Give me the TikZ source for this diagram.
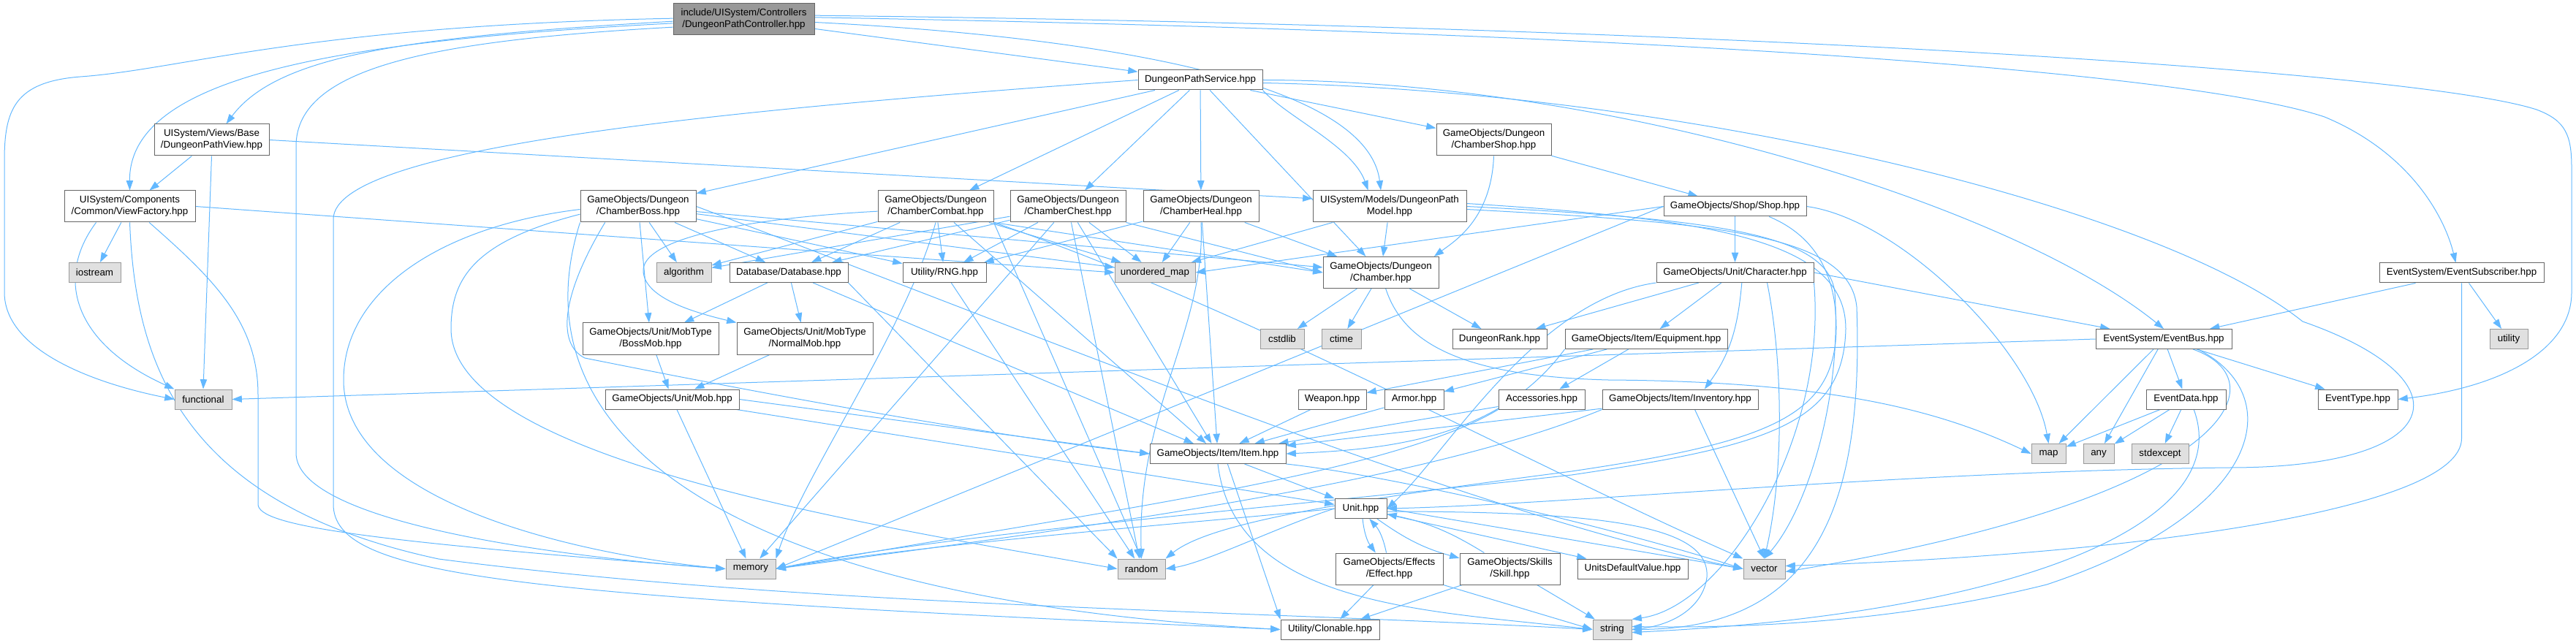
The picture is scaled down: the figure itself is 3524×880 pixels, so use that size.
\documentclass[tikz,border=0pt]{standalone}
\usepackage{fontspec}
\setmainfont{Liberation Sans}
\usetikzlibrary{arrows.meta}
\definecolor{depblue}{HTML}{63B8FF}
\definecolor{boxline}{HTML}{666666}
\definecolor{sysline}{HTML}{999999}
\definecolor{sysfill}{HTML}{E0E0E0}
\definecolor{topfill}{HTML}{999999}
\pgfdeclarelayer{links}
\pgfsetlayers{links,main}
\tikzset{
  hdr/.style={draw=boxline,fill=white,line width=0.75pt,align=center,inner sep=0pt,
    minimum height=20.25pt,font=\fontsize{10}{12}\selectfont},
  hdrtwo/.style={hdr,minimum height=32.25pt},
  syshdr/.style={hdr,draw=sysline,fill=sysfill},
  dep/.style={draw=depblue,line width=0.75pt,-{Triangle[length=10pt,width=7pt]}}
}
\begin{document}
\begin{tikzpicture}[x=0.75pt,y=-0.75pt]
  \useasboundingbox (0,0) rectangle (3524,880);
  \node[hdrtwo,fill=topfill,minimum width=144.75pt] (ctl) at (1017.5,26.5) {include/UISystem/Controllers\\/DungeonPathController.hpp};
  \node[hdr,minimum width=127.5pt] (svc) at (1642,109.5) {DungeonPathService.hpp};
  \node[hdrtwo,minimum width=117.75pt] (pview) at (289.5,191.5) {UISystem/Views/Base\\/DungeonPathView.hpp};
  \node[hdrtwo,minimum width=117.75pt] (cshop) at (2043.5,191.5) {GameObjects/Dungeon\\/ChamberShop.hpp};
  \node[hdrtwo,minimum width=134.25pt] (vfac) at (177.5,282.5) {UISystem/Components\\/Common/ViewFactory.hpp};
  \node[hdrtwo,minimum width=118.5pt] (cboss) at (873,282.5) {GameObjects/Dungeon\\/ChamberBoss.hpp};
  \node[hdrtwo,minimum width=118.5pt] (ccomb) at (1280,282.5) {GameObjects/Dungeon\\/ChamberCombat.hpp};
  \node[hdrtwo,minimum width=118.5pt] (cchest) at (1461,282.5) {GameObjects/Dungeon\\/ChamberChest.hpp};
  \node[hdrtwo,minimum width=118.5pt] (cheal) at (1643,282.5) {GameObjects/Dungeon\\/ChamberHeal.hpp};
  \node[hdrtwo,minimum width=157.5pt] (pmodel) at (1901,282.5) {UISystem/Models/DungeonPath\\Model.hpp};
  \node[hdr,minimum width=146.25pt] (shop) at (2373.5,282.5) {GameObjects/Shop/Shop.hpp};
  \node[syshdr,minimum width=53.25pt] (iostr) at (129.5,373) {iostream};
  \node[syshdr,minimum width=56.25pt] (algo) at (935.5,373) {algorithm};
  \node[hdr,minimum width=121.5pt] (db) at (1079,373) {Database/Database.hpp};
  \node[hdr,minimum width=85.5pt] (rng) at (1292,373) {Utility/RNG.hpp};
  \node[syshdr,minimum width=82.5pt] (umap) at (1580,373) {unordered\_map};
  \node[hdrtwo,minimum width=118.5pt] (chamber) at (1889,373) {GameObjects/Dungeon\\/Chamber.hpp};
  \node[hdr,minimum width=161.25pt] (charac) at (2373.5,373) {GameObjects/Unit/Character.hpp};
  \node[hdr,minimum width=168.75pt] (evsub) at (3367.5,373.5) {EventSystem/EventSubscriber.hpp};
  \node[hdrtwo,minimum width=139.5pt] (bossmob) at (890,463.5) {GameObjects/Unit/MobType\\/BossMob.hpp};
  \node[hdrtwo,minimum width=139.5pt] (normmob) at (1101,463.5) {GameObjects/Unit/MobType\\/NormalMob.hpp};
  \node[syshdr,minimum width=45pt] (cstdlib) at (1754,464) {cstdlib};
  \node[syshdr,minimum width=40.5pt] (ctime) at (1835,464) {ctime};
  \node[hdr,minimum width=96.75pt] (drank) at (2051.5,464) {DungeonRank.hpp};
  \node[hdr,minimum width=166.5pt] (equip) at (2252,464) {GameObjects/Item/Equipment.hpp};
  \node[hdr,minimum width=139.5pt] (evbus) at (2960,464) {EventSystem/EventBus.hpp};
  \node[syshdr,minimum width=39pt] (utility) at (3432,464) {utility};
  \node[syshdr,minimum width=58.5pt] (func) at (278,546.5) {functional};
  \node[hdr,minimum width=137.25pt] (mob) at (919.5,546.5) {GameObjects/Unit/Mob.hpp};
  \node[hdr,minimum width=69.75pt] (weapon) at (1822.5,546.5) {Weapon.hpp};
  \node[hdr,minimum width=60.75pt] (armor) at (1934.5,546.5) {Armor.hpp};
  \node[hdr,minimum width=88.5pt] (access) at (2109,546.5) {Accessories.hpp};
  \node[hdr,minimum width=159.75pt] (invent) at (2298.5,546.5) {GameObjects/Item/Inventory.hpp};
  \node[hdr,minimum width=81.75pt] (evdata) at (2990.5,546.5) {EventData.hpp};
  \node[hdr,minimum width=81.75pt] (evtype) at (3225.5,546.5) {EventType.hpp};
  \node[hdr,minimum width=139.5pt] (item) at (1666,621) {GameObjects/Item/Item.hpp};
  \node[syshdr,minimum width=35.25pt] (map) at (2802.5,621) {map};
  \node[syshdr,minimum width=31.5pt] (any) at (2871,621) {any};
  \node[syshdr,minimum width=58.5pt] (stdexc) at (2955,621) {stdexcept};
  \node[hdr,minimum width=53.25pt] (unit) at (1861.5,696) {Unit.hpp};
  \node[syshdr,minimum width=51pt] (memory) at (1027,778.5) {memory};
  \node[syshdr,minimum width=48.75pt] (random) at (1561.5,778.5) {random};
  \node[hdrtwo,minimum width=110.25pt] (effect) at (1900.5,778.5) {GameObjects/Effects\\/Effect.hpp};
  \node[hdrtwo,minimum width=102.75pt] (skill) at (2065.5,778.5) {GameObjects/Skills\\/Skill.hpp};
  \node[hdr,minimum width=113.25pt] (udv) at (2233.5,778.5) {UnitsDefaultValue.hpp};
  \node[syshdr,minimum width=42.75pt] (vector) at (2413.5,778.5) {vector};
  \node[hdr,minimum width=101.25pt] (clon) at (1819.5,861.5) {Utility/Clonable.hpp};
  \node[syshdr,minimum width=39.75pt] (string) at (2205.5,861.5) {string};
  \begin{pgfonlayer}{links}
  \draw[dep] (ctl) -- (svc);
  \draw[dep] ([yshift=-2pt]ctl.west) .. controls (560,50) and (380,75) .. ([xshift=15pt]pview.north);
  \draw[dep] ([yshift=-4pt]ctl.west) .. controls (480,55) and (176,100) .. (vfac.north);
  \draw[dep] ([yshift=1pt]ctl.west) .. controls (420,35) and (250,95) .. (110,105) .. controls (20,112) and (6,150) .. (6,220) -- (6,400) .. controls (6,480) and (130,525) .. (func.west);
  \draw[dep] ([yshift=-8pt]ctl.west) .. controls (600,55) and (405,90) .. (405,200) -- (405,620) .. controls (405,720) and (800,765) .. (memory.west);
  \draw[dep] ([yshift=-3pt]ctl.east) .. controls (1500,50) and (1870,110) .. ([xshift=-9pt]pmodel.north);
  \draw[dep] ([yshift=2pt]ctl.east) .. controls (2300,45) and (3000,100) .. (3180,160) .. controls (3300,210) and (3345,300) .. ([xshift=-6pt]evsub.north);
  \draw[dep] ([yshift=4pt]ctl.east) .. controls (2300,35) and (3300,95) .. (3470,150) .. controls (3510,165) and (3518,185) .. (3518,230) -- (3518,400) .. controls (3518,480) and (3420,530) .. (evtype.east);
  \draw[dep] (pview) -- (vfac);
  \draw[dep] (pview.south) -- (func.north);
  \draw[dep] (pview.east) -- ([yshift=8pt]pmodel.west);
  \draw[dep] (vfac) -- (iostr);
  \draw[dep] ([xshift=33pt]vfac.south west) .. controls (75,380) and (100,470) .. (func.north west);
  \draw[dep] (vfac.south) .. controls (185,500) and (250,690) .. (600,765) .. controls (1100,830) and (1700,835) .. (string.west);
  \draw[dep] ([xshift=20pt]vfac.south) .. controls (290,380) and (353,440) .. (353,540) -- (353,690) .. controls (353,720) and (500,740) .. (memory.west);
  \draw[dep] (vfac.east) -- (umap.west);
  \foreach \dst in {cboss,ccomb,cchest,cheal,cshop,chamber}
    \draw[dep] (svc) -- (\dst);
  \draw[dep] (svc.south east) .. controls (1760,160) and (1850,200) .. ([xshift=-22pt]pmodel.north);
  \draw[dep] (svc.east) .. controls (2200,110) and (2750,280) .. (evbus.north);
  \draw[dep] (svc.west) .. controls (1000,150) and (456,200) .. (456,300) -- (456,690) .. controls (456,790) and (700,815) .. (clon.west);
  \draw[dep] ([yshift=-3pt]svc.east) .. controls (2300,125) and (2950,280) .. (3150,440) .. controls (3380,520) and (3350,640) .. (3050,640) .. controls (2600,645) and (2150,690) .. (unit.east);
  \foreach \dst in {bossmob,algo,db,rng,umap,chamber}
    \draw[dep] (cboss) -- (\dst);
  \draw[dep] ([xshift=-34pt]cboss.south) .. controls (770,400) and (760,470) .. (800,490) .. controls (900,510) and (1300,590) .. (item.west);
  \draw[dep] ([yshift=-3pt]cboss.west) .. controls (600,310) and (470,400) .. (470,520) .. controls (470,690) and (800,760) .. (memory.west);
  \draw[dep] ([yshift=-8pt]cboss.west) .. controls (650,330) and (617,380) .. (617,450) .. controls (617,630) and (1200,720) .. (random.west);
  \draw[dep] (cboss.south west) .. controls (700,600) and (1000,820) .. (clon.west);
  \draw[dep] (cboss.east) .. controls (1400,450) and (2000,700) .. (vector.west);
  \foreach \dst in {algo,db,rng,umap,item}
    \draw[dep] (ccomb) -- (\dst);
  \draw[dep] (ccomb.south east) -- (chamber.west);
  \draw[dep] (ccomb.south) .. controls (1240,450) and (1100,650) .. (memory.north east);
  \draw[dep] (ccomb.south east) -- (random.north);
  \draw[dep] ([yshift=-5pt]ccomb.west) .. controls (1000,300) and (880,330) .. (880,370) .. controls (880,410) and (960,430) .. (normmob.north west);
  \draw[dep] (ccomb.south east) .. controls (1700,420) and (2100,640) .. (vector.north west);
  \foreach \dst in {algo,umap,item,random,db,rng,memory}
    \draw[dep] (cchest) -- (\dst);
  \draw[dep] (cchest.south east) -- (chamber.west);
  \foreach \dst in {chamber,umap,item,rng}
    \draw[dep] (cheal) -- (\dst);
  \draw[dep] (cheal.south) .. controls (1650,450) and (1555,560) .. (random.north);
  \draw[dep] (cshop) -- (shop);
  \draw[dep] (cshop.south) .. controls (2040,300) and (1990,330) .. ([xshift=-5pt]chamber.north east);
  \draw[dep] (pmodel) -- (chamber);
  \draw[dep] (pmodel) -- (umap);
  \draw[dep] (pmodel.east) .. controls (2350,300) and (2500,320) .. (2510,400) .. controls (2520,550) and (2470,700) .. (vector.north);
  \draw[dep] ([yshift=-3pt]pmodel.east) .. controls (2350,305) and (2530,320) .. (2540,420) .. controls (2550,700) and (2480,860) .. (string.east);
  \draw[dep] ([yshift=3pt]pmodel.east) .. controls (2350,300) and (2525,330) .. (2525,450) .. controls (2522,580) and (2420,610) .. (2150,650) .. controls (1700,700) and (1300,730) .. (memory.east);
  \draw[dep] (shop) -- (charac);
  \draw[dep] (shop.west) -- (umap.east);
  \draw[dep] (shop.west) -- (memory.east);
  \draw[dep] ([xshift=35pt]shop.south) .. controls (2500,330) and (2512,400) .. (2512,450) .. controls (2510,570) and (2420,605) .. (2150,645) .. controls (1800,690) and (1650,720) .. (random.north east);
  \draw[dep] (shop.east) .. controls (2600,300) and (2780,480) .. (map.north);
  \draw[dep] (charac) -- (drank);
  \draw[dep] (charac) -- (equip);
  \draw[dep] ([xshift=7pt]charac.south) .. controls (2378,440) and (2370,480) .. ([xshift=25pt]invent.north);
  \draw[dep] ([xshift=33pt]charac.south) .. controls (2440,500) and (2440,650) .. (vector.north);
  \draw[dep] (charac.south east) .. controls (2500,600) and (2360,830) .. (string.north east);
  \draw[dep] (charac.south west) .. controls (2100,410) and (1980,620) .. (unit.east);
  \draw[dep] (charac.east) -- (evbus);
  \draw[dep] (evsub) -- (evbus);
  \draw[dep] (evsub) -- (utility);
  \draw[dep] (evsub.south) -- (3367.5,600) .. controls (3367.5,700) and (2900,760) .. ([yshift=3pt]vector.east);
  \foreach \dst in {map,any,evdata,evtype}
    \draw[dep] (evbus) -- (\dst);
  \draw[dep] (evbus.west) -- (func.east);
  \draw[dep] ([xshift=30pt]evbus.south) .. controls (3120,520) and (3060,680) .. ([yshift=-3pt]vector.east);
  \draw[dep] ([xshift=35pt]evbus.south) .. controls (3130,540) and (3100,700) .. (2800,800) .. controls (2600,850) and (2400,860) .. ([yshift=3pt]string.east);
  \foreach \dst in {map,any,stdexc}
    \draw[dep] (evdata) -- (\dst);
  \draw[dep] ([xshift=8pt]evdata.south) .. controls (3060,720) and (2750,840) .. ([yshift=-3pt]string.east);
  \foreach \dst in {cstdlib,ctime,drank}
    \draw[dep] (chamber) -- (\dst);
  \draw[dep] ([xshift=5pt]chamber.south) .. controls (1920,470) and (2000,515) .. (2200,520) .. controls (2500,522) and (2650,560) .. (map.west);
  \foreach \dst in {weapon,armor,access}
    \draw[dep] (equip) -- (\dst);
  \draw[dep] (equip.south west) .. controls (2050,600) and (1900,615) .. (item.east);
  \foreach \src in {weapon,armor,access,invent}
    \draw[dep] (\src) -- (item);
  \draw[dep] (access.south west) .. controls (1900,650) and (1500,700) .. (memory.east);
  \draw[dep] ([xshift=15pt]invent.south) -- (vector.north);
  \draw[dep] (invent.south west) .. controls (1950,660) and (1500,720) .. (memory.east);
  \draw[dep] (item) -- (unit);
  \draw[dep] ([xshift=10pt]item.south) -- (clon.north west);
  \draw[dep] (item.south) .. controls (1690,830) and (1950,835) .. (string.west);
  \draw[dep] (item.south east) .. controls (1900,650) and (2200,720) .. (vector.west);
  \draw[dep] (unit) to[bend right=15] (effect);
  \draw[dep] (effect) to[bend right=15] (unit);
  \draw[dep] (unit) to[bend right=10] (skill);
  \draw[dep] (skill) to[bend right=10] (unit);
  \draw[dep] (unit) -- (udv);
  \draw[dep] (unit.east) -- (vector.west);
  \draw[dep] ([yshift=-3pt]unit.east) .. controls (2200,700) and (2340,720) .. (2335,790) .. controls (2330,830) and (2290,855) .. (string.east);
  \draw[dep] (unit.west) .. controls (1700,710) and (1300,740) .. (memory.east);
  \draw[dep] (unit.west) .. controls (1750,720) and (1650,770) .. (random.east);
  \draw[dep] (effect) -- (clon);
  \draw[dep] (effect.south east) -- (string.west);
  \draw[dep] (skill) -- (clon);
  \draw[dep] (skill) -- (string);
  \draw[dep] (bossmob) -- (mob);
  \draw[dep] (normmob) -- (mob);
  \draw[dep] (mob.east) -- (item.west);
  \draw[dep] (mob) -- (unit);
  \draw[dep] (mob) -- (memory);
  \draw[dep] (db) -- (bossmob);
  \draw[dep] (db) -- (normmob);
  \draw[dep] (db) -- (item);
  \draw[dep] (db.south east) -- (random.north west);
  \draw[dep] (rng) -- (random);
  \end{pgfonlayer}
\end{tikzpicture}
\end{document}
